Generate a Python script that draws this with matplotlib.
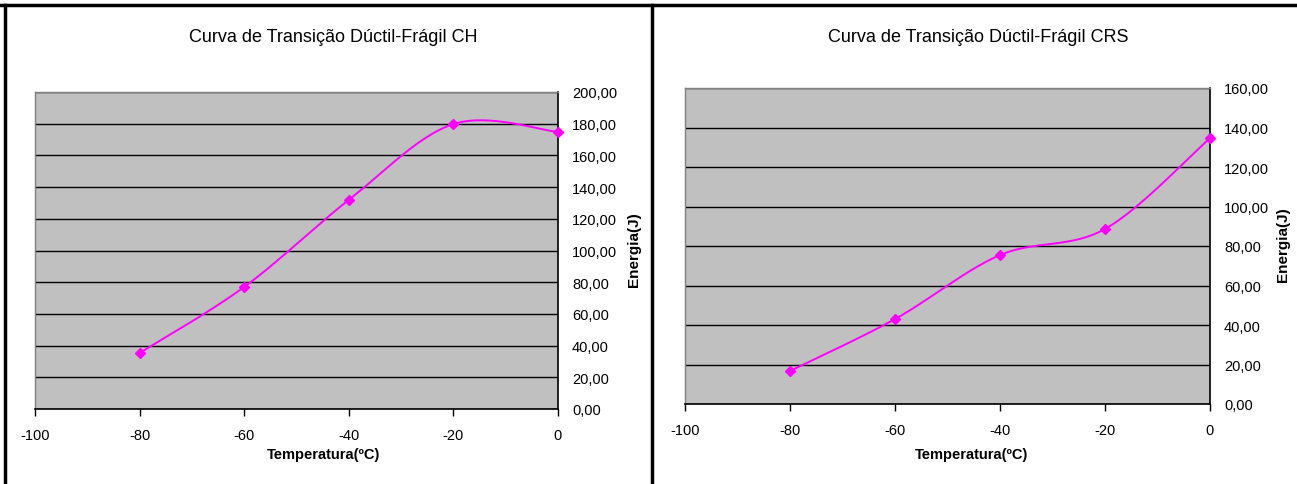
import numpy as np
import matplotlib
matplotlib.use("Agg")
import matplotlib.pyplot as plt
from matplotlib.lines import Line2D
from matplotlib.ticker import FuncFormatter

plt.rcParams['font.family'] = ['Liberation Sans', 'DejaVu Sans']
plt.rcParams['axes.unicode_minus'] = False

# Charpy test data
temperaturas = [-80, -60, -40, -20, 0]
energia_ch = [35.3, 77.0, 131.9, 179.8, 174.8]
energia_crs = [16.7, 43.0, 75.4, 88.6, 134.7]

titulo_ch = "Curva de Transição Dúctil-Frágil CH"
titulo_crs = "Curva de Transição Dúctil-Frágil CRS"
rotulo_x = "Temperatura(ºC)"
rotulo_y = "Energia(J)"

xticks = [-100, -80, -60, -40, -20, 0]
yticks_ch = [0, 20, 40, 60, 80, 100, 120, 140, 160, 180, 200]
yticks_crs = [0, 20, 40, 60, 80, 100, 120, 140, 160]

W, H = 1297, 485
MAGENTA = "#FF00FF"


def smooth(xs, ys, n=40):
    """Spreadsheet-style smoothed line: cubic Bezier through the points
    with Catmull-Rom control points."""
    p = np.column_stack([xs, ys]).astype(float)
    out = [p[0]]
    for i in range(len(p) - 1):
        p0 = p[i - 1] if i > 0 else p[i]
        p1, p2 = p[i], p[i + 1]
        p3 = p[i + 2] if i + 2 < len(p) else p[i + 1]
        c1 = p1 + (p2 - p0) / 6.0
        c2 = p2 - (p3 - p1) / 6.0
        t = np.linspace(0, 1, n)[1:, None]
        seg = ((1 - t) ** 3) * p1 + 3 * ((1 - t) ** 2) * t * c1 \
            + 3 * (1 - t) * t ** 2 * c2 + t ** 3 * p2
        out.extend(seg)
    out = np.array(out)
    return out[:, 0], out[:, 1]


def px_axes(fig, x0, y0, x1, y1):
    return fig.add_axes([x0 / W, (H - y1) / H, (x1 - x0) / W, (y1 - y0) / H])


def panel(fig, box, ymax, yticks, values, title, title_x, ylab_x, xlab_x):
    ax = px_axes(fig, *box)
    ax.set_facecolor("#C0C0C0")
    ax.set_xlim(-100, 0)
    ax.set_ylim(0, ymax)
    ax.set_xticks(xticks)
    ax.set_yticks(yticks)
    ax.yaxis.tick_right()
    ax.yaxis.set_major_formatter(FuncFormatter(lambda v, _: f"{v:.2f}".replace(".", ",")))
    ax.tick_params(axis="x", direction="out", length=5, width=1, color="black",
                   labelsize=10.5, pad=9)
    ax.tick_params(axis="y", direction="out", length=0, labelsize=10.5, pad=10)
    for s in ("left", "top"):
        ax.spines[s].set_color("#808080")
        ax.spines[s].set_linewidth(1)
    for s in ("right", "bottom"):
        ax.spines[s].set_color("black")
        ax.spines[s].set_linewidth(1.2)
    ax.grid(axis="y", color="black", linewidth=1)
    ax.set_axisbelow(True)

    sx, sy = smooth(temperaturas, values)
    ax.plot(sx, sy, color=MAGENTA, linewidth=1.4, zorder=3)
    ax.plot(temperaturas, values, linestyle="none", marker="D", markersize=5,
            color=MAGENTA, zorder=4, clip_on=False)

    fig.text(title_x / W, 1 - 37 / H, title, ha="center", va="center", fontsize=13)
    fig.text(xlab_x / W, 1 - 455 / H, rotulo_x, ha="center", va="center",
             fontsize=10.5, fontweight="bold")
    y_mid = (box[1] + box[3]) / 2 - 2
    fig.text(ylab_x / W, 1 - y_mid / H, rotulo_y, ha="center", va="center",
             rotation=90, fontsize=11, fontweight="bold")
    return ax


fig = plt.figure(figsize=(W / 100, H / 100), dpi=100)
fig.patch.set_facecolor("white")

panel(fig, (35, 93, 558, 410), 200, yticks_ch, energia_ch, titulo_ch, 333, 634, 324)
panel(fig, (685, 89, 1210, 405), 160, yticks_crs, energia_crs, titulo_crs, 978, 1283, 972)

# Frame lines around the two panels
frame = dict(color="black", linewidth=2.5, transform=fig.transFigure)
fig.add_artist(Line2D([0, 1], [1 - 6 / H, 1 - 6 / H], **frame))
fig.add_artist(Line2D([5 / W, 5 / W], [0, 1 - 6 / H], **frame))
fig.add_artist(Line2D([651.5 / W, 651.5 / W], [0, 1 - 6 / H], **frame))

fig.savefig("out.png", dpi=100)
